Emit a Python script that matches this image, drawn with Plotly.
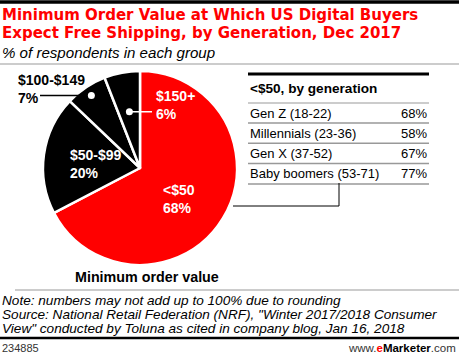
import math
import plotly.graph_objects as go

W, H = 474, 355

# ---- data ----
slice_labels = ["<$50", "$50-$99", "$100-$149", "$150+"]
slice_values = [68, 20, 7, 6]
slice_colors = ["#ff0000", "#000000", "#000000", "#000000"]

gen_labels = ["Gen Z (18-22)", "Millennials (23-36)", "Gen X (37-52)", "Baby boomers (53-71)"]
gen_values = [68, 58, 67, 77]

title_lines = ["Minimum Order Value at Which US Digital Buyers",
               "Expect Free Shipping, by Generation, Dec 2017"]
subtitle = "% of respondents in each group"
pie_caption = "Minimum order value"
table_header = "<$50, by generation"
note_lines = ["Note: numbers may not add up to 100% due to rounding",
              "Source: National Retail Federation (NRF), \"Winter 2017/2018 Consumer",
              "View\" conducted by Toluna as cited in company blog, Jan 16, 2018"]
chart_id = "234885"

# ---- helpers (pixel -> paper) ----
def px(x):
    return x / W

def py(y):
    return 1 - y / H

SANS = "Liberation Sans, Arial, sans-serif"
TITLE_FONT = "DejaVu Sans, Verdana, sans-serif"

# pie geometry
cx, cy, R = 140, 168, 97

fig = go.Figure()
fig.add_trace(go.Pie(
    labels=slice_labels, values=slice_values, sort=False,
    direction="clockwise", rotation=0,
    marker=dict(colors=slice_colors, line=dict(color="white", width=2.5)),
    textinfo="none", hoverinfo="skip", showlegend=False,
    domain=dict(x=[px(cx - R), px(cx + R)], y=[py(cy + R), py(cy - R)]),
))

total = sum(slice_values)
def slice_point(i, frac_r):
    start = sum(slice_values[:i])
    mid = (start + slice_values[i] / 2) / total * 2 * math.pi
    return cx + frac_r * R * math.sin(mid), cy - frac_r * R * math.cos(mid)

shapes = []
annotations = []

def line(x0, y0, x1, y1, color, width):
    shapes.append(dict(type="line", xref="paper", yref="paper",
                       x0=px(x0), y0=py(y0), x1=px(x1), y1=py(y1),
                       line=dict(color=color, width=width)))

def text(x, y, s, size, color="black", family=SANS, xanchor="left", yanchor="middle", align="left"):
    annotations.append(dict(xref="paper", yref="paper", x=px(x), y=py(y), text=s,
                            showarrow=False, xanchor=xanchor, yanchor=yanchor, align=align,
                            font=dict(size=size, color=color, family=family)))

# header rules
line(0, 2, 459, 2, "black", 3.5)
for i, t in enumerate(title_lines):
    text(0, 15 + 18 * i, "<b>%s</b>" % t, 15, "#ff0000", TITLE_FONT)
text(0, 52, "<i>%s</i>" % subtitle, 15.1)
line(0, 64, 459, 64, "#999999", 1)

# pie inside labels
def pie_label(i, dx, dy):
    x, y = slice_point(i, 0.5)
    text(x + dx, y + dy, "<b>%s<br>%d%%</b>" % (slice_labels[i], slice_values[i]), 14, "white",
         xanchor="left", align="left")

pie_label(0, -20, 6)
pie_label(1, -24, 3)

# dot + leader labels for small slices
def dot(x, y):
    r = 3.5
    shapes.append(dict(type="circle", xref="paper", yref="paper",
                       x0=px(x - r), x1=px(x + r), y0=py(y + r), y1=py(y - r),
                       fillcolor="white", line=dict(color="white", width=0)))

x2, y2 = slice_point(2, 0.9)
line(40, y2, x2, y2, "black", 1.5)
dot(x2, y2)
text(16, y2 - 7, "<b>%s<br>%d%%</b>" % (slice_labels[2], slice_values[2]), 14, "black")

x3, y3 = slice_point(3, 0.59)
line(x3, y3, 152, y3, "white", 1.5)
dot(x3, y3)
text(154, y3 - 7, "<b>%s<br>%d%%</b>" % (slice_labels[3], slice_values[3]), 14, "white")

text(147, 277, "<b>%s</b>" % pie_caption, 14.3, xanchor="center")

# table
tx0, tx1 = 248, 429
line(tx0, 74, tx1, 74, "black", 3)
text(tx0, 88, "<b>%s</b>" % table_header, 13.6)
line(tx0, 103, tx1, 103, "#999999", 1)
for i, (lab, val) in enumerate(zip(gen_labels, gen_values)):
    yc = 113 + 20.3 * i
    text(tx0, yc, lab, 13)
    text(tx1, yc, "%d%%" % val, 13, xanchor="right")
    line(tx0, yc + 10, tx1, yc + 10, "#999999", 1.5)

# connector from pie to table
line(233, 206, 339, 206, "black", 1)
line(339, 206, 339, 183, "black", 1)

# footer
line(15, 290, 459, 290, "#999999", 1)
for i, t in enumerate(note_lines):
    text(0, 300 + 14 * i, "<i>%s</i>" % t, 13.6)
line(0, 338, 459, 338, "black", 2.5)
text(0, 348, chart_id, 11, "#333333")
text(458, 348, "www.<b><span style='color:#ff0000'>e</span><span style='color:#000'>Marketer</span></b>.com",
     11.5, "#333333", xanchor="right")

fig.update_layout(width=W, height=H, margin=dict(l=0, r=0, t=0, b=0),
                  paper_bgcolor="white", plot_bgcolor="white",
                  shapes=shapes, annotations=annotations)
fig.write_html("out.html", config={"displayModeBar": False, "staticPlot": True},
               post_script="document.body.style.margin='0';")
